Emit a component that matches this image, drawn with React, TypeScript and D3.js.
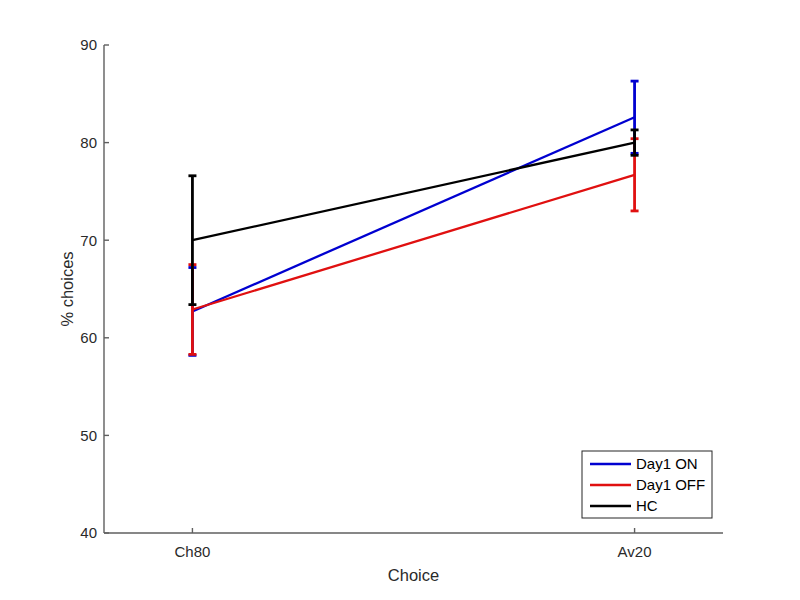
import React from "react";
import * as d3 from "d3";

const categories = ["Ch80", "Av20"];
const seriesNames = ["Day1 ON", "Day1 OFF", "HC"];
const seriesColors = ["#0000d0", "#e01010", "#000000"];
const day1OnMean = [62.7, 82.6];
const day1OnErr = [4.5, 3.7];
const day1OffMean = [62.9, 76.7];
const day1OffErr = [4.6, 3.7];
const hcMean = [70.0, 80.0];
const hcErr = [6.6, 1.3];
const yTicks = [40, 50, 60, 70, 80, 90];

const means = [day1OnMean, day1OffMean, hcMean];
const errs = [day1OnErr, day1OffErr, hcErr];

export default function App() {
  const left = 104, right = 723, top = 45, bottom = 533;
  const x = d3.scaleLinear().domain([0.8, 2.2]).range([left, right]);
  const y = d3.scaleLinear().domain([40, 90]).range([bottom, top]);
  const axisColor = "#5f5f5f";
  const textColor = "#2a2a2a";
  const font = "Liberation Sans, Arial, sans-serif";
  const line = d3.line<number>().x((_, i) => x(i + 1)).y((d) => y(d));
  const capW = 4;

  return (
    <svg width={800} height={600} style={{ position: "absolute", left: 0, top: 0, background: "#fff" }}>
      <rect width={800} height={600} fill="#fff" />
      <line x1={left} x2={right} y1={bottom} y2={bottom} stroke={axisColor} strokeWidth={1.4} />
      <line x1={left} x2={left} y1={top} y2={bottom} stroke={axisColor} strokeWidth={1.4} />
      {yTicks.map((t) => (
        <g key={t}>
          <line x1={left} x2={left + 5} y1={y(t)} y2={y(t)} stroke={axisColor} strokeWidth={1.4} />
          <text x={left - 7} y={y(t)} dy="0.36em" textAnchor="end" fontSize={15} fill={textColor} fontFamily={font}>
            {t}
          </text>
        </g>
      ))}
      {categories.map((c, i) => (
        <g key={c}>
          <line x1={x(i + 1)} x2={x(i + 1)} y1={bottom} y2={bottom - 5} stroke={axisColor} strokeWidth={1.4} />
          <text x={x(i + 1)} y={bottom + 24} textAnchor="middle" fontSize={15} fill={textColor} fontFamily={font}>
            {c}
          </text>
        </g>
      ))}
      <text x={(left + right) / 2} y={581} textAnchor="middle" fontSize={16.5} fill={textColor} fontFamily={font}>
        Choice
      </text>
      <text
        transform={`translate(73,${(top + bottom) / 2}) rotate(-90)`}
        textAnchor="middle"
        fontSize={16.5}
        fill={textColor}
        fontFamily={font}
      >
        % choices
      </text>
      {means.map((m, s) => (
        <g key={s}>
          <path d={line(m) || ""} fill="none" stroke={seriesColors[s]} strokeWidth={2.3} />
          {m.map((v, i) => (
            <g key={i} stroke={seriesColors[s]} strokeWidth={2.8}>
              <line x1={x(i + 1)} x2={x(i + 1)} y1={y(v - errs[s][i])} y2={y(v + errs[s][i])} />
              <line x1={x(i + 1) - capW} x2={x(i + 1) + capW} y1={y(v - errs[s][i])} y2={y(v - errs[s][i])} />
              <line x1={x(i + 1) - capW} x2={x(i + 1) + capW} y1={y(v + errs[s][i])} y2={y(v + errs[s][i])} />
            </g>
          ))}
        </g>
      ))}
      <rect x={582} y={451} width={130} height={67} fill="#fff" stroke="#262626" strokeWidth={1} />
      {seriesNames.map((n, i) => (
        <g key={n}>
          <line x1={590} x2={631} y1={464 + i * 21} y2={464 + i * 21} stroke={seriesColors[i]} strokeWidth={2.3} />
          <text x={636} y={464 + i * 21} dy="0.36em" fontSize={15} fill="#000" fontFamily={font}>
            {n}
          </text>
        </g>
      ))}
    </svg>
  );
}
